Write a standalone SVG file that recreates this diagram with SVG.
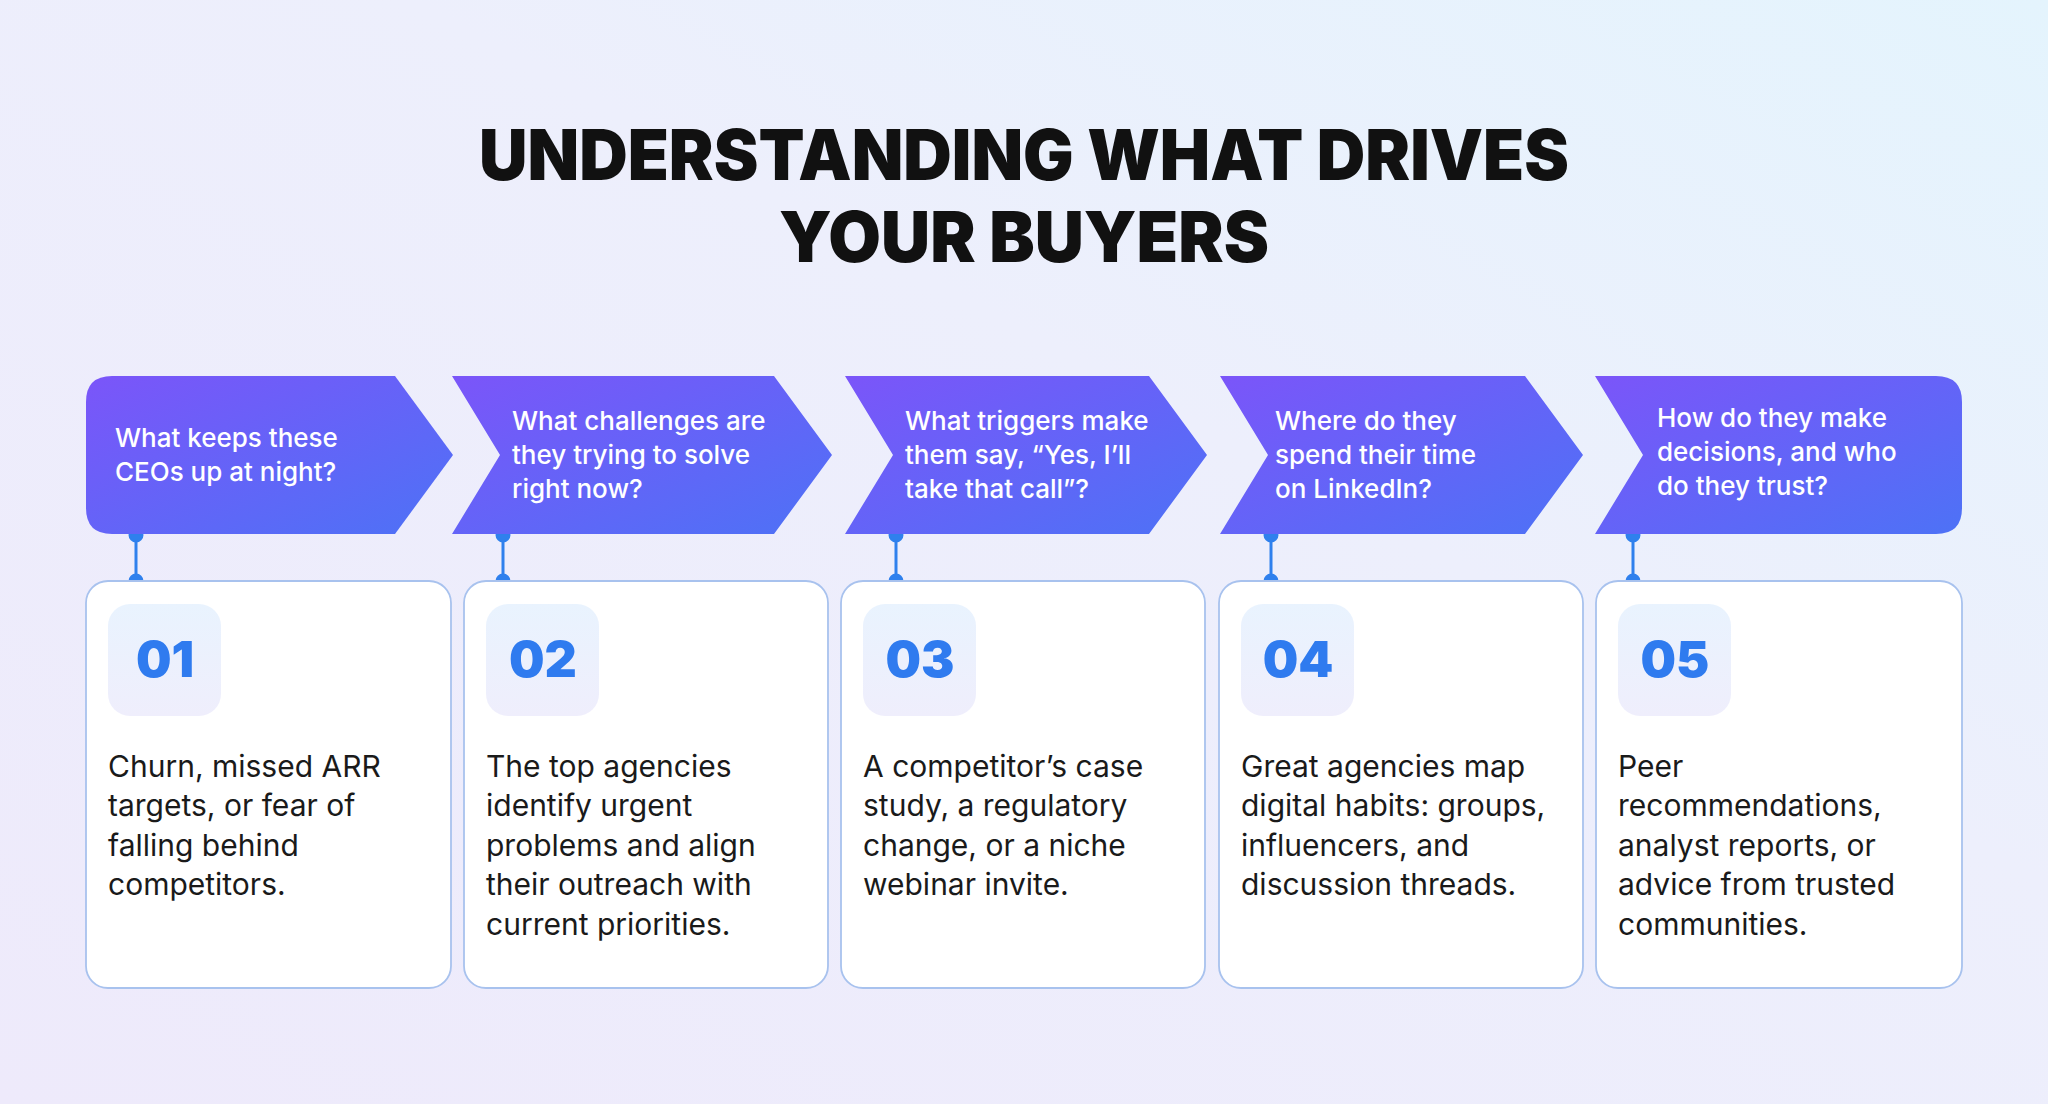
<svg xmlns="http://www.w3.org/2000/svg" width="2048" height="1104" viewBox="0 0 2048 1104">
<defs>
<linearGradient id="bg" x1="0" y1="1" x2="1" y2="0"><stop offset="0" stop-color="#EEEAFB"/><stop offset="0.6" stop-color="#EDEFFC"/><stop offset="1" stop-color="#E4F4FD"/></linearGradient>
<linearGradient id="bn" x1="0" y1="0" x2="1" y2="1"><stop offset="0" stop-color="#7B55F9"/><stop offset="1" stop-color="#4D72F6"/></linearGradient>
<linearGradient id="bd" x1="0" y1="0" x2="0" y2="1"><stop offset="0" stop-color="#E9F3FE"/><stop offset="1" stop-color="#EFEEFC"/></linearGradient>
<style>
.bt{font-family:Inter,"Liberation Sans",sans-serif;font-size:26px;fill:#fff;font-weight:500}
.tx{font-family:Inter,"Liberation Sans",sans-serif;font-size:30px;fill:#1a1a1a;font-weight:400}
.num{font-family:Inter,"Liberation Sans",sans-serif;font-size:50px;fill:#2F7BEF;font-weight:900;text-anchor:middle}
.card{fill:#fff;stroke:#A8C2EE;stroke-width:1.8}
.badge{fill:url(#bd)}
.ttl{font-family:Inter,"Liberation Sans",sans-serif;font-size:70px;font-weight:900;fill:#111;text-anchor:middle}
</style>
</defs>
<rect width="2048" height="1104" fill="url(#bg)"/>
<text class="ttl" x="1024" y="180" textLength="1090" lengthAdjust="spacingAndGlyphs">UNDERSTANDING WHAT DRIVES</text>
<text class="ttl" x="1024" y="262" textLength="490" lengthAdjust="spacingAndGlyphs">YOUR BUYERS</text>
<g id="connectors" stroke="#2F80ED" stroke-width="3" fill="#2F80ED">
<line x1="136" y1="535" x2="136" y2="581"/><circle cx="136" cy="535" r="6"/><circle cx="136" cy="581" r="6"/>
<line x1="503" y1="535" x2="503" y2="581"/><circle cx="503" cy="535" r="6"/><circle cx="503" cy="581" r="6"/>
<line x1="896" y1="535" x2="896" y2="581"/><circle cx="896" cy="535" r="6"/><circle cx="896" cy="581" r="6"/>
<line x1="1271" y1="535" x2="1271" y2="581"/><circle cx="1271" cy="535" r="6"/><circle cx="1271" cy="581" r="6"/>
<line x1="1633" y1="535" x2="1633" y2="581"/><circle cx="1633" cy="535" r="6"/><circle cx="1633" cy="581" r="6"/>
</g>
<g id="b1"><path d="M112 376 H395 L453 455 L395 534 H112 Q86 534 86 508 V402 Q86 376 112 376 Z" fill="url(#bn)"/>
<text class="bt" x="115" y="447">What keeps these</text><text class="bt" x="115" y="481">CEOs up at night?</text></g>
<g id="b2"><path d="M452 376 H774 L832 455 L774 534 H452 L500 455 Z" fill="url(#bn)"/>
<text class="bt" x="512" y="430">What challenges are</text><text class="bt" x="512" y="464">they trying to solve</text><text class="bt" x="512" y="498">right now?</text></g>
<g id="b3"><path d="M845 376 H1149 L1207 455 L1149 534 H845 L893 455 Z" fill="url(#bn)"/>
<text class="bt" x="905" y="430">What triggers make</text><text class="bt" x="905" y="464">them say, “Yes, I’ll</text><text class="bt" x="905" y="498">take that call”?</text></g>
<g id="b4"><path d="M1220 376 H1525 L1583 455 L1525 534 H1220 L1268 455 Z" fill="url(#bn)"/>
<text class="bt" x="1275" y="430">Where do they</text><text class="bt" x="1275" y="464">spend their time</text><text class="bt" x="1275" y="498">on LinkedIn?</text></g>
<g id="b5"><path d="M1595 376 H1936 Q1962 376 1962 402 V508 Q1962 534 1936 534 H1595 L1643 455 Z" fill="url(#bn)"/>
<text class="bt" x="1657" y="427">How do they make</text><text class="bt" x="1657" y="461">decisions, and who</text><text class="bt" x="1657" y="495">do they trust?</text></g>
<g id="c1"><rect class="card" x="86" y="581" width="365" height="407" rx="22"/><rect class="badge" x="108" y="604" width="113" height="112" rx="22"/><text class="num" x="165" y="677">01</text>
<text class="tx" x="108" y="777">Churn, missed ARR</text><text class="tx" x="108" y="816">targets, or fear of</text><text class="tx" x="108" y="856">falling behind</text><text class="tx" x="108" y="895">competitors.</text></g>
<g id="c2"><rect class="card" x="464" y="581" width="364" height="407" rx="22"/><rect class="badge" x="486" y="604" width="113" height="112" rx="22"/><text class="num" x="543" y="677">02</text>
<text class="tx" x="486" y="777">The top agencies</text><text class="tx" x="486" y="816">identify urgent</text><text class="tx" x="486" y="856">problems and align</text><text class="tx" x="486" y="895">their outreach with</text><text class="tx" x="486" y="935">current priorities.</text></g>
<g id="c3"><rect class="card" x="841" y="581" width="364" height="407" rx="22"/><rect class="badge" x="863" y="604" width="113" height="112" rx="22"/><text class="num" x="920" y="677">03</text>
<text class="tx" x="863" y="777">A competitor’s case</text><text class="tx" x="863" y="816">study, a regulatory</text><text class="tx" x="863" y="856">change, or a niche</text><text class="tx" x="863" y="895">webinar invite.</text></g>
<g id="c4"><rect class="card" x="1219" y="581" width="364" height="407" rx="22"/><rect class="badge" x="1241" y="604" width="113" height="112" rx="22"/><text class="num" x="1298" y="677">04</text>
<text class="tx" x="1241" y="777">Great agencies map</text><text class="tx" x="1241" y="816">digital habits: groups,</text><text class="tx" x="1241" y="856">influencers, and</text><text class="tx" x="1241" y="895">discussion threads.</text></g>
<g id="c5"><rect class="card" x="1596" y="581" width="366" height="407" rx="22"/><rect class="badge" x="1618" y="604" width="113" height="112" rx="22"/><text class="num" x="1675" y="677">05</text>
<text class="tx" x="1618" y="777">Peer</text><text class="tx" x="1618" y="816">recommendations,</text><text class="tx" x="1618" y="856">analyst reports, or</text><text class="tx" x="1618" y="895">advice from trusted</text><text class="tx" x="1618" y="935">communities.</text></g>
</svg>
